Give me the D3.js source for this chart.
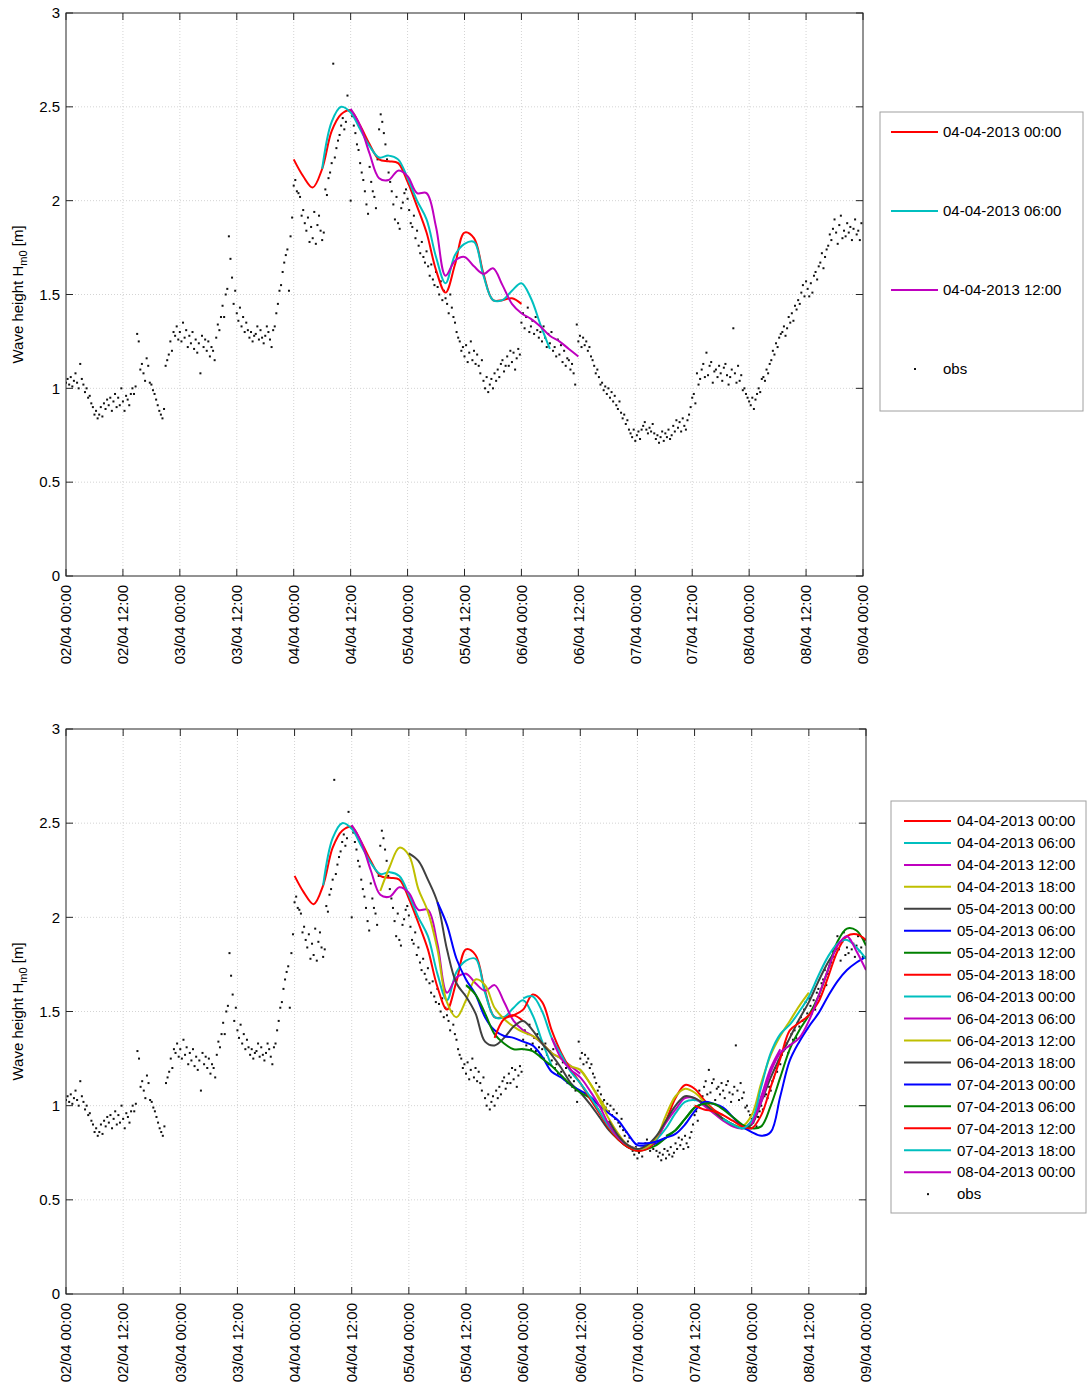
<!DOCTYPE html>
<html lang="en">
<head>
<meta charset="UTF-8">
<title>Wave height forecasts and observations</title>
<script src="https://d3js.org/d3.v7.min.js"></script>
<style>
  body { margin: 0; background: #fff; }
  svg { display: block; font-family: "Liberation Sans", Arial, sans-serif; }
  .grid line { stroke: #d4d4d4; stroke-width: 1; stroke-dasharray: 1,2; }
  .frame { fill: none; stroke: #262626; stroke-width: 1; }
  .tick { stroke: #262626; stroke-width: 1; }
  .lbl { font-size: 15px; fill: #000; }
  .legend-box { fill: #fff; stroke: #a0a0a0; stroke-width: 1; }
</style>
</head>
<body>
<svg id="chart" width="1088" height="1394"></svg>
<script>
// observations, one value every 20 minutes from 02/04 00:00
const obsStart = Date.UTC(2013, 3, 2, 0, 0);
const obsStepMin = 20;
const obsValues = [
  1.03,1.05,1.02, 1.06,1.01,1.04, 1.08,1.03,1.00, 1.13,1.05,1.02, 0.98,1.00,0.95, 0.96,0.92,0.90,
  0.86,0.88,0.84, 0.86,0.90,0.85, 0.92,0.89,0.94, 0.91,0.95,0.88, 0.93,0.97,0.90, 0.95,0.91,1.00,
  0.93,0.88,0.96, 0.94,0.91,0.97, 1.00,0.97,1.01, 1.29,1.25,1.10, 1.13,1.08,1.04, 1.16,1.12,1.03,
  1.02,0.99,0.97, 0.94,0.91,0.88, 0.86,0.84,0.89, 1.12,1.15,1.18, 1.25,1.20,1.30, 1.28,1.33,1.26,
  1.30,1.25,1.35, 1.27,1.31,1.22, 1.28,1.24,1.30, 1.21,1.26,1.19, 1.24,1.08,1.28, 1.22,1.26,1.20,
  1.25,1.17,1.22, 1.20,1.15,1.27, 1.34,1.31,1.38, 1.44,1.38,1.50, 1.53,1.81,1.69, 1.59,1.45,1.52,
  1.40,1.36,1.43, 1.33,1.38,1.30, 1.35,1.31,1.27, 1.30,1.25,1.28, 1.29,1.33,1.26, 1.31,1.27,1.24,
  1.28,1.33,1.30, 1.26,1.22,1.31, 1.33,1.40,1.45, 1.52,1.55,1.62, 1.67,1.71,1.74, 1.52,1.81,1.91,
  2.08,2.11,2.05, 2.04,2.02,1.92, 1.95,1.88,1.84, 1.91,1.78,1.86, 1.80,1.94,1.77, 1.87,1.92,1.84,
  1.79,1.83,2.06, 2.03,2.12,2.15, 2.20,2.73,2.23, 2.28,2.32,2.35, 2.40,2.44,2.38, 2.42,2.56,2.48,
  2.00,2.45,2.40, 2.36,2.30,2.27, 2.20,2.15,2.11, 2.05,1.98,1.93, 2.18,2.10,2.05, 2.02,1.96,2.22,
  2.38,2.46,2.42, 2.36,2.30,2.22, 2.15,2.10,2.05, 1.98,1.90,2.02, 1.88,1.85,1.96, 1.99,2.04,2.06,
  2.01,1.95,1.88, 1.86,1.92,1.80, 1.84,1.76,1.72, 1.78,1.70,1.67, 1.73,1.65,1.60, 1.66,1.58,1.55,
  1.62,1.54,1.50, 1.57,1.47,1.52, 1.48,1.45,1.40, 1.50,1.43,1.38, 1.35,1.30,1.27, 1.25,1.20,1.22,
  1.17,1.23,1.14, 1.19,1.25,1.15, 1.20,1.13,1.18, 1.12,1.08,1.15, 1.04,1.00,1.06, 0.98,1.02,1.05,
  1.00,1.08,1.04, 1.10,1.06,1.13, 1.15,1.09,1.12, 1.17,1.12,1.20, 1.14,1.19,1.10, 1.16,1.21,1.18,
  1.35,1.40,1.32, 1.38,1.43,1.30, 1.33,1.36,1.29, 1.38,1.31,1.27, 1.30,1.25,1.33, 1.27,1.22,1.29,
  1.24,1.30,1.20, 1.22,1.17,1.26, 1.18,1.23,1.14, 1.20,1.12,1.16, 1.15,1.10,1.13, 1.08,1.02,1.34,
  1.25,1.28,1.22, 1.27,1.23,1.25, 1.20,1.22,1.17, 1.15,1.12,1.08, 1.10,1.06,1.02, 1.03,0.99,1.01,
  0.97,1.00,0.95, 0.98,0.93,0.96, 0.91,0.89,0.93, 0.87,0.84,0.86, 0.81,0.83,0.78, 0.76,0.74,0.78,
  0.72,0.75,0.77, 0.73,0.78,0.80, 0.82,0.78,0.76, 0.79,0.77,0.81, 0.76,0.73,0.75, 0.71,0.74,0.77,
  0.72,0.76,0.74, 0.78,0.73,0.75, 0.80,0.77,0.83, 0.79,0.82,0.77, 0.84,0.80,0.78, 0.83,0.86,0.90,
  0.95,0.97,0.92, 1.08,1.02,1.05, 1.10,1.13,1.06, 1.19,1.07,1.12, 1.14,1.03,1.09, 1.10,1.06,1.12,
  1.08,1.04,1.11, 1.13,1.07,1.02, 1.06,1.10,1.32, 1.08,1.03,1.12, 1.04,1.07,0.99, 1.00,0.97,0.95,
  0.93,0.91,0.95, 0.89,0.94,0.97, 1.00,0.98,1.05, 1.06,1.04,1.10, 1.08,1.13,1.15, 1.20,1.18,1.24,
  1.22,1.27,1.29, 1.30,1.33,1.28, 1.32,1.38,1.35, 1.40,1.36,1.44, 1.42,1.47,1.45, 1.51,1.55,1.49,
  1.57,1.53,1.49, 1.56,1.51,1.60, 1.62,1.58,1.65, 1.67,1.72,1.64, 1.70,1.74,1.76, 1.82,1.79,1.85,
  1.90,1.83,1.77, 1.87,1.92,1.80, 1.84,1.81,1.88, 1.83,1.86,1.79, 1.85,1.90,1.82, 1.84,1.79,1.88
];

// forecast runs, one value every 2 hours from the run time
const runStepHours = 2;
const runLabels = [
  "04-04-2013 00:00", "04-04-2013 06:00", "04-04-2013 12:00", "04-04-2013 18:00",
  "05-04-2013 00:00", "05-04-2013 06:00", "05-04-2013 12:00", "05-04-2013 18:00",
  "06-04-2013 00:00", "06-04-2013 06:00", "06-04-2013 12:00", "06-04-2013 18:00",
  "07-04-2013 00:00", "07-04-2013 06:00", "07-04-2013 12:00", "07-04-2013 18:00",
  "08-04-2013 00:00"
];
const runColors = [
  "#ff0000", "#00bfbf", "#bf00bf", "#bfbf00", "#404040", "#0000ff", "#008000",
  "#ff0000", "#00bfbf", "#bf00bf", "#bfbf00", "#404040", "#0000ff", "#008000",
  "#ff0000", "#00bfbf", "#bf00bf"
];
const run00 = [2.22,2.13,2.07,2.17,2.37,2.46,2.48,2.40,2.30,2.22,2.21,2.20,2.10,1.97,1.83,1.63,1.51,1.66,1.83,1.80,1.61,1.47,1.47,1.48,1.45];
const run01 = [2.17,2.42,2.50,2.47,2.38,2.29,2.23,2.24,2.22,2.12,2.00,1.90,1.70,1.56,1.71,1.77,1.78,1.60,1.47,1.47,1.52,1.56,1.48,1.34,1.21];
const run02 = [2.49,2.40,2.25,2.12,2.11,2.16,2.13,2.04,2.04,1.86,1.60,1.68,1.70,1.65,1.61,1.64,1.55,1.45,1.40,1.37,1.33,1.28,1.25,1.21,1.17];
const run03 = [2.14,2.27,2.37,2.33,2.15,2.03,1.83,1.55,1.47,1.56,1.67,1.64,1.52,1.46,1.42,1.39,1.37,1.33,1.28,1.25,1.21,1.19,1.12,1.04,0.96];
const run04 = [2.34,2.30,2.20,2.08,1.83,1.65,1.58,1.49,1.34,1.32,1.36,1.42,1.45,1.40,1.33,1.27,1.20,1.12,1.07,1.01,0.94,0.87,0.82,0.78,0.77];
const run05 = [2.08,1.96,1.78,1.67,1.59,1.47,1.40,1.37,1.36,1.34,1.32,1.26,1.18,1.15,1.11,1.08,1.05,1.00,0.96,0.92,0.85,0.79,0.79,0.80,0.83];
const run06 = [1.64,1.59,1.49,1.38,1.33,1.30,1.30,1.29,1.25,1.21,1.16,1.11,1.07,1.04,0.97,0.88,0.82,0.78,0.76,0.77,0.79,0.83,0.87,0.93,0.99];
const run07 = [1.36,1.46,1.48,1.51,1.59,1.55,1.40,1.28,1.19,1.12,1.04,0.96,0.88,0.82,0.78,0.76,0.77,0.82,0.92,1.04,1.11,1.09,1.03,0.98,0.95];
const run08 = [1.57,1.58,1.50,1.36,1.27,1.18,1.12,1.05,0.97,0.89,0.83,0.79,0.77,0.78,0.82,0.88,0.96,1.02,1.03,1.01,0.97,0.93,0.90,0.88,0.88];
const run09 = [1.36,1.25,1.19,1.15,1.08,1.00,0.90,0.83,0.79,0.77,0.78,0.83,0.91,0.98,1.04,1.04,1.00,0.96,0.92,0.89,0.88,0.92,1.05,1.20,1.30];
const run10 = [1.19,1.12,1.03,0.93,0.85,0.79,0.77,0.78,0.83,0.95,1.05,1.09,1.07,1.02,0.97,0.93,0.90,0.89,0.95,1.12,1.27,1.37,1.45,1.53,1.60];
const run11 = [0.92,0.84,0.79,0.77,0.79,0.84,0.92,1.00,1.05,1.04,1.01,0.97,0.93,0.90,0.88,0.90,1.02,1.15,1.26,1.36,1.46,1.55,1.66,1.76,1.84];
const run12 = [0.80,0.80,0.81,0.83,0.85,0.90,0.97,1.02,1.01,0.99,0.94,0.89,0.86,0.84,0.86,1.05,1.24,1.34,1.42,1.49,1.58,1.66,1.72,1.76,1.79];
const run13 = [0.84,0.87,0.93,0.99,1.01,1.01,0.98,0.94,0.90,0.88,0.89,1.00,1.15,1.30,1.40,1.48,1.58,1.72,1.87,1.94,1.93,1.85];
const run14 = [1.00,0.98,0.97,0.95,0.92,0.89,0.88,0.95,1.10,1.25,1.40,1.44,1.48,1.55,1.68,1.82,1.90,1.91,1.88];
const run15 = [0.93,0.90,0.88,0.92,1.10,1.28,1.38,1.43,1.50,1.58,1.69,1.79,1.86,1.88,1.84,1.78];
const run16 = [0.90,1.02,1.18,1.28,1.32,1.36,1.45,1.58,1.72,1.85,1.90,1.82,1.72];
const runValues = [run00, run01, run02, run03, run04, run05, run06, run07, run08,
                   run09, run10, run11, run12, run13, run14, run15, run16];

const yTicks = [0, 0.5, 1, 1.5, 2, 2.5, 3];

const parseRun = d3.utcParse("%d-%m-%Y %H:%M");
const fmtTick = d3.utcFormat("%d/%m %H:%M");
const HOUR = 3600 * 1000;

const obs = obsValues.map((v, i) => ({ t: new Date(obsStart + i * obsStepMin * 60000), v }));
const runs = runLabels.map((lab, k) => {
  const t0 = parseRun(lab).getTime();
  return {
    label: lab,
    color: runColors[k],
    points: runValues[k].map((v, i) => ({ t: new Date(t0 + i * runStepHours * HOUR), v }))
  };
});

const svg = d3.select("#chart");

const panels = [
  { top: 13, bottom: 576, left: 66, right: 863, runIdx: [0, 1, 2],
    legend: { x: 880, y: 112, w: 203, h: 299, first: 132, step: 79, lineX: 891, textX: 943 } },
  { top: 729, bottom: 1294, left: 66, right: 866, runIdx: d3.range(17),
    legend: { x: 891, y: 801, w: 195, h: 412, first: 821, step: 21.95, lineX: 904, textX: 957 } }
];

panels.forEach((p, pi) => {
  const x = d3.scaleUtc()
    .domain([new Date(Date.UTC(2013, 3, 2)), new Date(Date.UTC(2013, 3, 9))])
    .range([p.left, p.right]);
  const y = d3.scaleLinear().domain([0, 3]).range([p.bottom, p.top]);
  const xTicks = x.ticks(d3.utcHour.every(12));

  const g = svg.append("g");

  // grid
  const grid = g.append("g").attr("class", "grid");
  grid.selectAll(".gx").data(xTicks.slice(1, -1)).join("line")
    .attr("x1", d => x(d)).attr("x2", d => x(d))
    .attr("y1", p.top).attr("y2", p.bottom);
  grid.selectAll(".gy").data(yTicks.slice(1, -1)).join("line")
    .attr("x1", p.left).attr("x2", p.right)
    .attr("y1", d => y(d)).attr("y2", d => y(d));

  // clip for data
  const clipId = "clip" + pi;
  svg.append("clipPath").attr("id", clipId)
    .append("rect").attr("x", p.left).attr("y", p.top)
    .attr("width", p.right - p.left).attr("height", p.bottom - p.top);

  const data = g.append("g").attr("clip-path", `url(#${clipId})`);

  // observations
  data.append("g").selectAll("rect").data(obs).join("rect")
    .attr("x", d => x(d.t) - 1).attr("y", d => y(d.v) - 1)
    .attr("width", 2).attr("height", 2).attr("fill", "#111");

  // forecasts
  const line = d3.line().x(d => x(d.t)).y(d => y(d.v)).curve(d3.curveCatmullRom.alpha(0.5));
  data.append("g").selectAll("path").data(p.runIdx.map(k => runs[k])).join("path")
    .attr("d", d => line(d.points))
    .attr("fill", "none")
    .attr("stroke", d => d.color)
    .attr("stroke-width", 2)
    .attr("stroke-linejoin", "round");

  // frame and ticks
  g.append("rect").attr("class", "frame")
    .attr("x", p.left).attr("y", p.top)
    .attr("width", p.right - p.left).attr("height", p.bottom - p.top);

  const tl = 7;
  const ticks = g.append("g");
  xTicks.forEach(t => {
    ticks.append("line").attr("class", "tick")
      .attr("x1", x(t)).attr("x2", x(t)).attr("y1", p.bottom).attr("y2", p.bottom - tl);
    ticks.append("line").attr("class", "tick")
      .attr("x1", x(t)).attr("x2", x(t)).attr("y1", p.top).attr("y2", p.top + tl);
  });
  yTicks.forEach(v => {
    ticks.append("line").attr("class", "tick")
      .attr("x1", p.left).attr("x2", p.left + tl).attr("y1", y(v)).attr("y2", y(v));
    ticks.append("line").attr("class", "tick")
      .attr("x1", p.right).attr("x2", p.right - tl).attr("y1", y(v)).attr("y2", y(v));
  });

  // tick labels
  g.append("g").selectAll("text").data(yTicks).join("text")
    .attr("class", "lbl")
    .attr("x", p.left - 6).attr("y", d => y(d))
    .attr("dy", "0.35em")
    .attr("text-anchor", "end")
    .text(d => d3.format("")(d));

  g.append("g").selectAll("text").data(xTicks).join("text")
    .attr("class", "lbl")
    .attr("transform", d => `translate(${x(d)},${p.bottom + 9}) rotate(-90)`)
    .attr("dy", "0.35em")
    .attr("text-anchor", "end")
    .text(d => fmtTick(d));

  // y axis label
  const yl = g.append("text").attr("class", "lbl")
    .attr("transform", `translate(23,${(p.top + p.bottom) / 2}) rotate(-90)`)
    .attr("text-anchor", "middle");
  yl.append("tspan").text("Wave height H");
  yl.append("tspan").attr("dy", 4).style("font-size", "11px").text("m0");
  yl.append("tspan").attr("dy", -4).text(" [m]");

  // legend
  const L = p.legend;
  const lg = g.append("g");
  lg.append("rect").attr("class", "legend-box")
    .attr("x", L.x).attr("y", L.y).attr("width", L.w).attr("height", L.h);
  const items = p.runIdx.map(k => runs[k]).concat([{ label: "obs", color: null }]);
  items.forEach((it, i) => {
    const cy = L.first + i * L.step;
    if (it.color) {
      lg.append("line").attr("x1", L.lineX).attr("x2", L.lineX + 47)
        .attr("y1", cy).attr("y2", cy)
        .attr("stroke", it.color).attr("stroke-width", 2);
    } else {
      lg.append("rect").attr("x", L.lineX + 23).attr("y", cy - 1)
        .attr("width", 2).attr("height", 2).attr("fill", "#111");
    }
    lg.append("text").attr("class", "lbl")
      .attr("x", L.textX).attr("y", cy).attr("dy", "0.35em")
      .text(it.label);
  });
});
</script>
</body>
</html>
